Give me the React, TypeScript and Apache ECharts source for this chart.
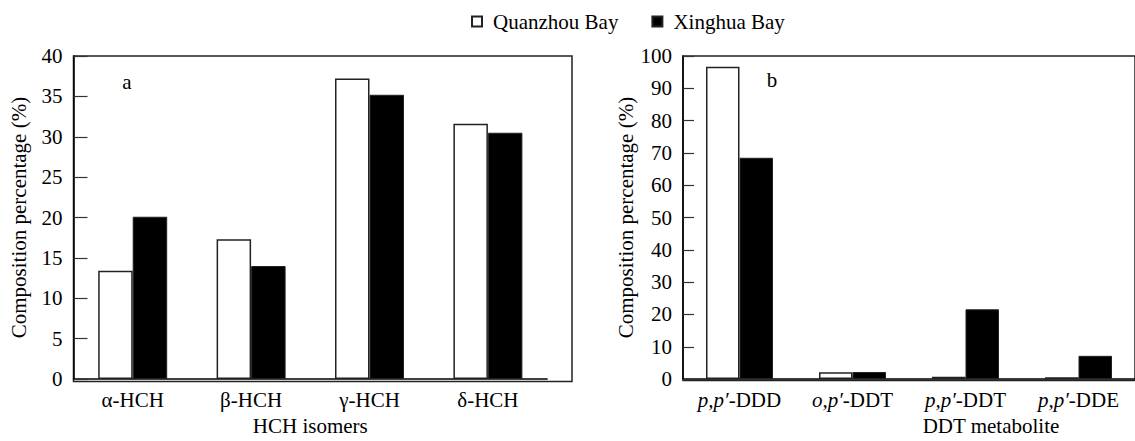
import React, { useEffect, useRef } from "react";
import * as echarts from "echarts";

const hchCategories = ["α-HCH", "β-HCH", "γ-HCH", "δ-HCH"];
const hchQuanzhou = [13.4, 17.3, 37.2, 31.6];
const hchXinghua = [20.1, 14.0, 35.2, 30.5];

const ddtCategories = ["p,p′-DDD", "o,p′-DDT", "p,p′-DDT", "p,p′-DDE"];
const ddtQuanzhou = [96.7, 2.1, 0.7, 0.6];
const ddtXinghua = [68.5, 2.2, 21.6, 7.2];

const seriesNames = ["Quanzhou Bay", "Xinghua Bay"];
const panelLabels = ["a", "b"];

const FONT = "Liberation Serif";
const FS = 21;

export default function App() {
  const ref = useRef<HTMLDivElement>(null);
  useEffect(() => {
    if (!ref.current) return;
    const chart = echarts.init(ref.current, undefined, { renderer: "svg" });
    const whiteStyle = { color: "#fff", borderColor: "#222", borderWidth: 1.5 };
    const blackStyle = { color: "#000", borderColor: "#222", borderWidth: 1 };
    const txt = { color: "#000", fontFamily: FONT, fontSize: FS };
    const yAxisBase = (max: number, interval: number, tickLen: number, gap: number) => ({
      type: "value",
      min: 0,
      max,
      interval,
      name: "Composition percentage (%)",
      nameLocation: "middle",
      nameGap: gap,
      nameTextStyle: { ...txt },
      axisLine: { show: true, lineStyle: { color: "#000", width: 1.5 } },
      axisTick: { show: true, inside: true, length: tickLen, lineStyle: { color: "#333", width: 1.2 } },
      axisLabel: { ...txt, margin: 11 },
      splitLine: { show: false },
    });
    const ddtFormatter = (v: string) => {
      const idx = v.indexOf("-");
      return `{i|${v.slice(0, idx)}}{n|-${v.slice(idx + 1)}}`;
    };
    chart.setOption({
      animation: false,
      backgroundColor: "#fff",
      textStyle: { fontFamily: FONT },
      legend: {
        data: seriesNames,
        left: 471,
        top: 11,
        padding: 0,
        icon: "rect",
        itemWidth: 10,
        itemHeight: 10,
        itemGap: 33,
        textStyle: { ...txt, padding: [0, 0, 0, 6] },
      },
      grid: [
        { left: 73.5, top: 56, width: 473.6, height: 325.5 },
        { left: 683, top: 56, width: 463, height: 324.5 },
        { left: 73.5, top: 56, width: 498.5, height: 325.5, show: true, borderColor: "#222", borderWidth: 1.5, backgroundColor: "transparent" },
        { left: 683, top: 56, width: 520, height: 324.5, show: true, borderColor: "#222", borderWidth: 1.5, backgroundColor: "transparent" },
      ],
      xAxis: [
        {
          type: "category",
          gridIndex: 0,
          data: hchCategories,
          name: "HCH isomers",
          nameLocation: "middle",
          nameGap: 22,
          nameTextStyle: { ...txt },
          axisLine: { show: true, lineStyle: { color: "#000", width: 1.5 } },
          axisTick: { show: false },
          axisLabel: { ...txt, margin: 10, interval: 0 },
        },
        {
          type: "category",
          gridIndex: 1,
          data: ddtCategories,
          name: "DDT metabolite",
          nameLocation: "middle",
          nameGap: 22,
          nameTextStyle: { ...txt, padding: [0, 0, 0, 164] },
          axisLine: { show: true, lineStyle: { color: "#000", width: 1.5 } },
          axisTick: { show: false },
          axisLabel: {
            ...txt,
            margin: 10,
            interval: 0,
            hideOverlap: false,
            formatter: ddtFormatter,
            rich: {
              i: { color: "#000", fontFamily: FONT, fontSize: FS, fontStyle: "italic" },
              n: { color: "#000", fontFamily: FONT, fontSize: FS },
            },
          },
        },
        { type: "value", gridIndex: 2, show: false },
        { type: "value", gridIndex: 3, show: false },
      ],
      yAxis: [
        { ...yAxisBase(40, 5, 14, 44), gridIndex: 0 },
        { ...yAxisBase(100, 10, 11, 47), gridIndex: 1 },
        { type: "value", gridIndex: 2, show: false },
        { type: "value", gridIndex: 3, show: false },
      ],
      series: [
        { name: seriesNames[0], type: "bar", xAxisIndex: 0, yAxisIndex: 0, data: hchQuanzhou, barWidth: 34.5, barGap: "0%", itemStyle: whiteStyle },
        { name: seriesNames[1], type: "bar", xAxisIndex: 0, yAxisIndex: 0, data: hchXinghua, barWidth: 34.5, barGap: "0%", itemStyle: blackStyle },
        { name: seriesNames[0], type: "bar", xAxisIndex: 1, yAxisIndex: 1, data: ddtQuanzhou, barWidth: 33.5, barGap: "0%", itemStyle: whiteStyle },
        { name: seriesNames[1], type: "bar", xAxisIndex: 1, yAxisIndex: 1, data: ddtXinghua, barWidth: 33.5, barGap: "0%", itemStyle: blackStyle },
      ],
      graphic: [
        { type: "text", x: 127, y: 82, style: { text: panelLabels[0], fill: "#000", fontFamily: FONT, fontSize: FS, align: "center", verticalAlign: "middle" } },
        { type: "text", x: 772, y: 80, style: { text: panelLabels[1], fill: "#000", fontFamily: FONT, fontSize: FS, align: "center", verticalAlign: "middle" } },
      ],
    });
    return () => chart.dispose();
  }, []);
  return (
    <div
      ref={ref}
      style={{ position: "absolute", left: 0, top: 0, width: 1135, height: 441, background: "#fff" }}
    />
  );
}
